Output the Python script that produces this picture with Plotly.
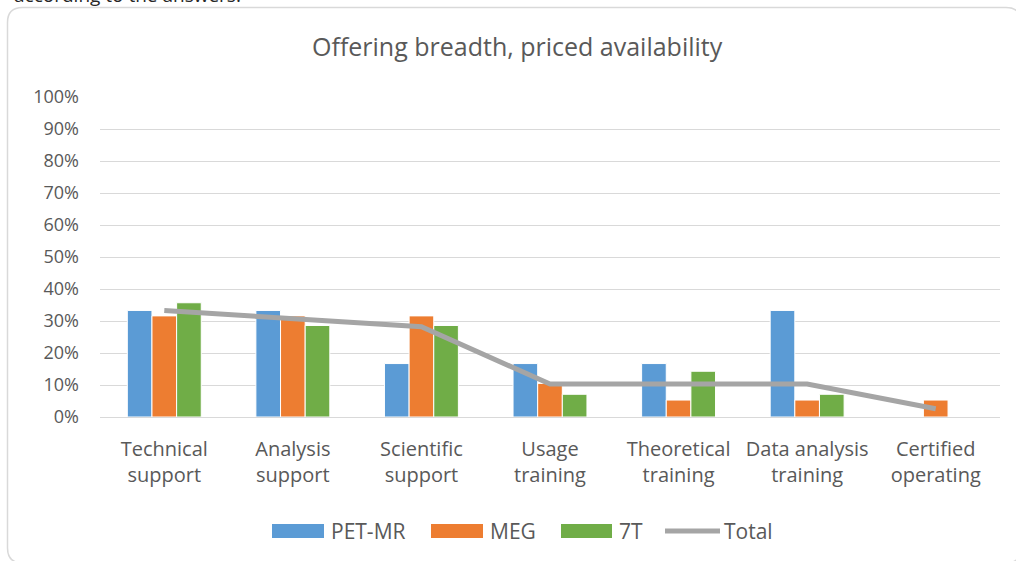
import plotly.graph_objects as go

# Service categories (two-line labels)
categories = [
    "Technical<br>support",
    "Analysis<br>support",
    "Scientific<br>support",
    "Usage<br>training",
    "Theoretical<br>training",
    "Data analysis<br>training",
    "Certified<br>operating",
]

# Share of sites offering each service at a price (%)
pet_mr = [33.3, 33.3, 16.7, 16.7, 16.7, 33.3, 0.0]
meg = [31.6, 31.6, 31.6, 10.5, 5.3, 5.3, 5.3]
seven_t = [35.7, 28.6, 28.6, 7.1, 14.3, 7.1, 0.0]
total = [33.3, 30.8, 28.2, 10.3, 10.3, 10.3, 2.6]

y_ticks = [0, 10, 20, 30, 40, 50, 60, 70, 80, 90, 100]
y_tick_labels = [f"{v}%" for v in y_ticks]

colors = {"PET-MR": "#5B9BD5", "MEG": "#ED7D31", "7T": "#70AD47", "Total": "#A5A5A5"}
text_color = "#595959"
font_family = "Open Sans, Noto Sans, sans-serif"

W, H = 1016, 561
L, R, T, B = 100, 16, 97, 144
plot_w = W - L - R
plot_h = H - T - B


def px(x):
    return (x - L) / plot_w


def py(y):
    return (H - B - y) / plot_h


fig = go.Figure()
for name, vals in [("PET-MR", pet_mr), ("MEG", meg), ("7T", seven_t)]:
    fig.add_trace(go.Bar(
        x=categories, y=vals, name=name,
        marker=dict(color=colors[name], line=dict(color="white", width=1)),
        showlegend=False,
    ))
fig.add_trace(go.Scatter(
    x=categories, y=total, name="Total", mode="lines",
    line=dict(color=colors["Total"], width=5),
    showlegend=False,
))

shapes = []
annotations = []

# Rounded chart border
bx0, by0, bx1, by1, rad = 7.5, 7.5, 1021, 563, 15
path = (
    f"M {px(bx0 + rad)} {py(by0)} L {px(bx1 - rad)} {py(by0)} "
    f"Q {px(bx1)} {py(by0)} {px(bx1)} {py(by0 + rad)} "
    f"L {px(bx1)} {py(by1 - rad)} Q {px(bx1)} {py(by1)} {px(bx1 - rad)} {py(by1)} "
    f"L {px(bx0 + rad)} {py(by1)} Q {px(bx0)} {py(by1)} {px(bx0)} {py(by1 - rad)} "
    f"L {px(bx0)} {py(by0 + rad)} Q {px(bx0)} {py(by0)} {px(bx0 + rad)} {py(by0)} Z"
)
shapes.append(dict(type="path", xref="paper", yref="paper", path=path,
                   line=dict(color="#D9D9D9", width=1.5), fillcolor="rgba(0,0,0,0)",
                   layer="below"))

# Legend: swatches and labels
leg_y = 531
legend_items = [
    ("PET-MR", "bar", 272, 324, 329),
    ("MEG", "bar", 431, 483, 488),
    ("7T", "bar", 561, 612, 617),
    ("Total", "line", 665, 720, 722),
]
for name, kind, x0, x1, tx in legend_items:
    if kind == "bar":
        shapes.append(dict(type="rect", xref="paper", yref="paper",
                           x0=px(x0), x1=px(x1), y0=py(leg_y + 7), y1=py(leg_y - 7),
                           fillcolor=colors[name], line=dict(width=0)))
    else:
        shapes.append(dict(type="line", xref="paper", yref="paper",
                           x0=px(x0), x1=px(x1), y0=py(leg_y), y1=py(leg_y),
                           line=dict(color=colors[name], width=5)))
    annotations.append(dict(text=name, xref="paper", yref="paper", x=px(tx), y=py(leg_y),
                            xanchor="left", yanchor="middle", showarrow=False,
                            font=dict(family=font_family, size=21, color=text_color)))

# Preceding caption line, partly above the frame
annotations.append(dict(text="according to the answers.", xref="paper", yref="paper",
                        x=px(12), y=py(10), xanchor="left", yanchor="bottom",
                        showarrow=False,
                        font=dict(family=font_family, size=19, color="#262626")))

fig.update_layout(
    width=W, height=H,
    margin=dict(l=L, r=R, t=T, b=B),
    paper_bgcolor="white", plot_bgcolor="white",
    barmode="group", bargap=0.425, bargroupgap=0,
    title=dict(text="Offering breadth, priced availability", x=0.509, xanchor="center",
               y=1 - 47 / H, yanchor="middle", yref="container",
               font=dict(family=font_family, size=25, color=text_color)),
    font=dict(family=font_family, color=text_color),
    shapes=shapes,
    annotations=annotations,
)
fig.update_xaxes(showgrid=False, showline=False, ticks="", ticklabelstandoff=18,
                 tickfont=dict(family=font_family, size=20, color=text_color))
fig.update_yaxes(range=[0, 100], tickvals=y_ticks, ticktext=y_tick_labels,
                 showgrid=True, gridcolor="#D9D9D9", gridwidth=1,
                 zeroline=True, zerolinecolor="#D9D9D9", zerolinewidth=1,
                 showline=False, ticks="", ticklabelstandoff=20,
                 tickfont=dict(family=font_family, size=18, color=text_color))

fig.write_html("out.html")
